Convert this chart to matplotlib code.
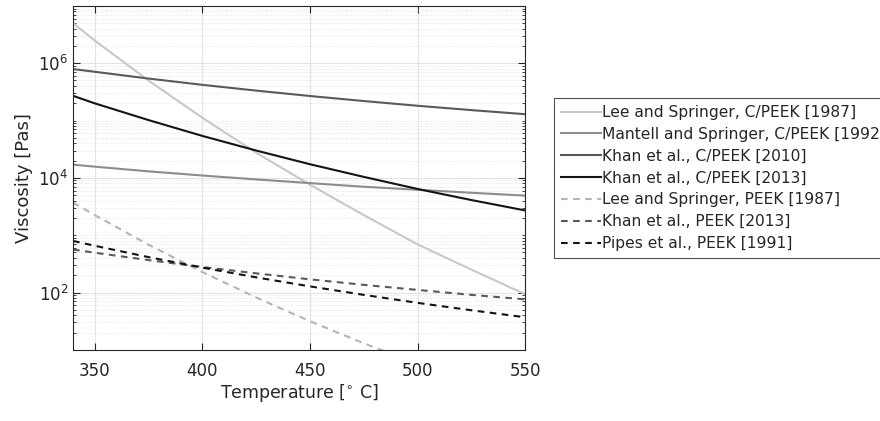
import numpy as np
import matplotlib
matplotlib.use("Agg")
import matplotlib.pyplot as plt
from matplotlib.ticker import FixedLocator, LogFormatterSciNotation, NullFormatter

# --- data (temperature in deg C, viscosity in Pa s) ---
temps = [340, 350, 375, 400, 425, 450, 475, 500, 525, 550]

lee_cpeek = [5.0e6, 2.5e6, 5.0e5, 1.12e5, 2.75e4, 7.6e3, 2.24e3, 690, 250, 93]
mantell_cpeek = [1.70e4, 1.57e4, 1.30e4, 1.10e4, 9.4e3, 8.1e3, 7.0e3, 6.2e3, 5.5e3, 4.9e3]
khan_cpeek_2010 = [7.9e5, 7.1e5, 5.4e5, 4.2e5, 3.33e5, 2.68e5, 2.19e5, 1.81e5, 1.52e5, 1.29e5]
khan_cpeek_2013 = [2.7e5, 2.0e5, 1.02e5, 5.4e4, 3.0e4, 1.73e4, 1.04e4, 6.4e3, 4.1e3, 2.7e3]

temps_lee_peek = [340, 350, 375, 400, 425, 450, 475, 500]
lee_peek = [3.7e3, 2.25e3, 684, 228, 82, 31.6, 13.0, 5.7]
khan_peek = [562, 495, 368, 279, 216, 170, 136, 111, 91, 76]
pipes_peek = [794, 655, 415, 272, 184, 128, 91, 66, 49, 37]

labels = [
    'Lee and Springer, C/PEEK [1987]',
    'Mantell and Springer, C/PEEK [1992]',
    'Khan et al., C/PEEK [2010]',
    'Khan et al., C/PEEK [2013]',
    'Lee and Springer, PEEK [1987]',
    'Khan et al., PEEK [2013]',
    'Pipes et al., PEEK [1991]',
]

plt.rcParams['font.family'] = ['DejaVu Sans']

fig = plt.figure(figsize=(8.8, 4.21), dpi=100)
ax = fig.add_axes([0.083, 0.169, 0.514, 0.817])

lw = 1.5
dash = (0, (3.2, 2.6))
ax.plot(temps, lee_cpeek, color='#c8c8c8', lw=lw, label=labels[0])
ax.plot(temps, mantell_cpeek, color='#8c8c8c', lw=lw, label=labels[1])
ax.plot(temps, khan_cpeek_2010, color='#5a5a5a', lw=lw, label=labels[2])
ax.plot(temps, khan_cpeek_2013, color='#141414', lw=lw, label=labels[3])
ax.plot(temps_lee_peek, lee_peek, color='#b4b4b4', lw=lw, ls=dash, label=labels[4])
ax.plot(temps, khan_peek, color='#5a5a5a', lw=lw, ls=dash, label=labels[5])
ax.plot(temps, pipes_peek, color='#141414', lw=lw, ls=dash, label=labels[6])

ax.set_yscale('log')
ax.set_xlim(340, 550)
ax.set_ylim(1e1, 1e7)
ax.set_xticks([350, 400, 450, 500, 550])
ax.yaxis.set_major_locator(FixedLocator([1e2, 1e4, 1e6]))
ax.yaxis.set_major_formatter(LogFormatterSciNotation())
minors = [k * 10.0 ** n for n in range(1, 7) for k in range(1, 10)
          if not (k == 1 and n in (2, 4, 6))] + [1e7]
ax.yaxis.set_minor_locator(FixedLocator(minors))
ax.yaxis.set_minor_formatter(NullFormatter())

ax.grid(True, which='major', color='#e4e4e4', lw=0.8, ls='-')
ax.grid(True, which='minor', axis='y', color='#dcdcdc', lw=0.6, ls=(0, (1, 2)))
ax.set_axisbelow(True)

ax.tick_params(which='both', direction='in', top=True, right=True, colors='#262626',
               labelcolor='#262626', labelsize=12)
ax.tick_params(which='major', length=5, width=0.8)
ax.tick_params(which='minor', length=2.5, width=0.6)
ax.tick_params(axis='x', which='major', pad=9)
for s in ax.spines.values():
    s.set_color('#262626')
    s.set_linewidth(0.8)

ax.set_xlabel(r'Temperature [$^{\circ}$ C]', fontsize=12.5, color='#262626', labelpad=1)
ax.set_ylabel('Viscosity [Pas]', fontsize=13, color='#262626', labelpad=4)

# legend sits partly outside the figure, as in the original
leg = fig.legend(loc='upper left', bbox_to_anchor=(554 / 880, 1 - 98 / 421),
                 bbox_transform=fig.transFigure, fontsize=11.2, frameon=True,
                 fancybox=False, handlelength=2.55, handletextpad=0.1,
                 labelspacing=0.44, borderpad=0.45, borderaxespad=0)
leg.get_frame().set_edgecolor('#262626')
leg.get_frame().set_linewidth(0.8)
for t in leg.get_texts():
    t.set_color('#262626')

fig.savefig('out.png', dpi=100)
